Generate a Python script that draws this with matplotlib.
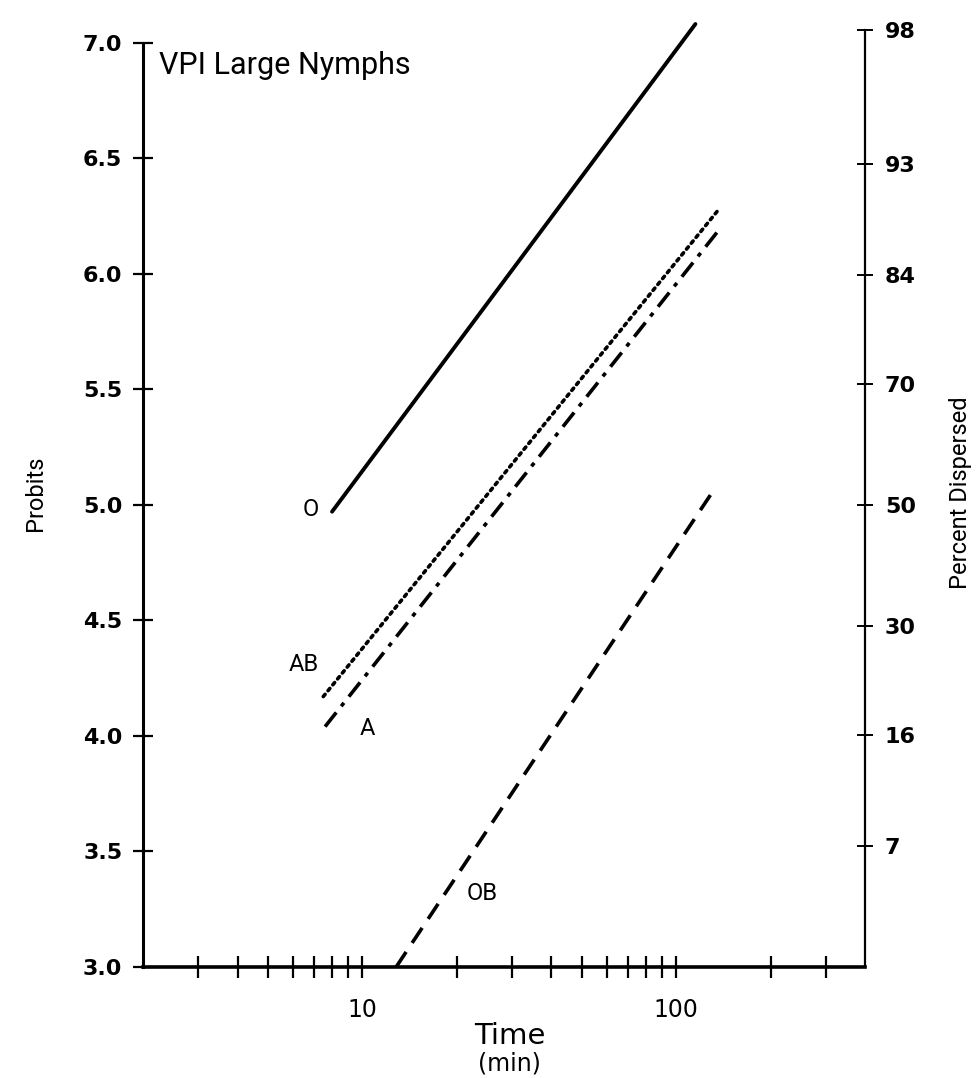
#!/usr/bin/env python
# Probit lines for VPI large nymphs, log time axis with percent scale on the right

from statistics import NormalDist

import matplotlib
matplotlib.use("Agg")
import matplotlib.pyplot as plt
from matplotlib.ticker import FixedLocator, NullFormatter

# line end points (time in min, probits)
o_time = [8.0, 115.0]
o_probit = [4.97, 7.08]
ab_time = [7.5, 135.0]
ab_probit = [4.17, 6.27]
a_time = [7.6, 135.0]
a_probit = [4.04, 6.18]
ob_time = [12.8, 134.0]
ob_probit = [3.0, 5.08]

# labels next to the lines
line_names = ["O", "AB", "A", "OB"]
name_x = [6.85, 6.5, 10.4, 24.0]
name_y = [4.98, 4.31, 4.03, 3.32]

# right axis, percent dispersed
pct_ticks = [98, 93, 84, 70, 50, 30, 16, 7]

x_major = [10, 100]
x_minor = [3, 4, 5, 6, 7, 8, 9, 20, 30, 40, 50, 60, 70, 80, 90, 200, 300]
y_ticks = [3.0, 3.5, 4.0, 4.5, 5.0, 5.5, 6.0, 6.5, 7.0]

narrow = ["Roboto", "DejaVu Sans"]


def main():
    fig = plt.figure(figsize=(9.8, 10.78), dpi=100)
    ax = fig.add_axes([0.146, 0.103, 0.737, 0.879])

    ax.set_xscale("log")
    ax.set_xlim(2, 400)
    ax.set_ylim(3.0, 7.1)

    # the four probit lines
    ax.plot(o_time, o_probit, color="black", lw=2.8, solid_capstyle="round")
    ax.plot(ab_time, ab_probit, color="black", lw=2.6, linestyle=(0, (0.8, 1.3)),
            dash_capstyle="round")
    ax.plot(a_time, a_probit, color="black", lw=2.6, linestyle=(0, (5, 2.2, 1.2, 2.2)))
    ax.plot(ob_time, ob_probit, color="black", lw=2.6, linestyle=(0, (5, 3)))

    for name, x, y in zip(line_names, name_x, name_y):
        ax.text(x, y, name, fontsize=17, ha="center", va="center", family=narrow)

    ax.text(2.25, 6.9, "VPI Large Nymphs", fontsize=22, ha="left", va="center",
            family=narrow)

    # spines
    for s in ["top", "right"]:
        ax.spines[s].set_visible(False)
    ax.spines["left"].set_linewidth(2.2)
    ax.spines["left"].set_bounds(3.0, 7.0)
    ax.spines["bottom"].set_linewidth(2.6)

    # ticks
    ax.set_yticks(y_ticks)
    ax.set_yticklabels(["%.1f" % v for v in y_ticks], fontsize=16, fontweight="bold")
    ax.tick_params(axis="y", direction="inout", length=14, width=1.6, pad=8)

    ax.xaxis.set_major_locator(FixedLocator(x_major))
    ax.xaxis.set_minor_locator(FixedLocator(x_minor))
    ax.xaxis.set_minor_formatter(NullFormatter())
    ax.set_xticklabels([str(v) for v in x_major], fontsize=17)
    ax.tick_params(axis="x", which="both", direction="inout", length=16, width=1.6, pad=14)

    ax.set_ylabel("Probits", fontsize=17, labelpad=26, family=narrow)

    # percent dispersed on the right
    ax2 = ax.twinx()
    ax2.set_ylim(ax.get_ylim())
    pct_pos = [NormalDist().inv_cdf(p / 100) + 5 for p in pct_ticks]
    ax2.set_yticks(pct_pos)
    ax2.set_yticklabels([str(p) for p in pct_ticks], fontsize=16, fontweight="bold")
    ax2.tick_params(axis="y", direction="inout", length=12, width=1.4, pad=8)
    for s in ["top", "left", "bottom"]:
        ax2.spines[s].set_visible(False)
    ax2.spines["right"].set_linewidth(1.6)
    ax2.spines["right"].set_bounds(3.0, pct_pos[0])
    ax2.set_ylabel("Percent Dispersed", fontsize=17, labelpad=24, family=narrow)

    # x axis title in two lines
    fig.text(0.52, 0.039, "Time", fontsize=21, ha="center", va="center")
    fig.text(0.52, 0.013, "(min)", fontsize=17, ha="center", va="center")

    plt.savefig("out.png", dpi=100)


if __name__ == "__main__":
    main()
